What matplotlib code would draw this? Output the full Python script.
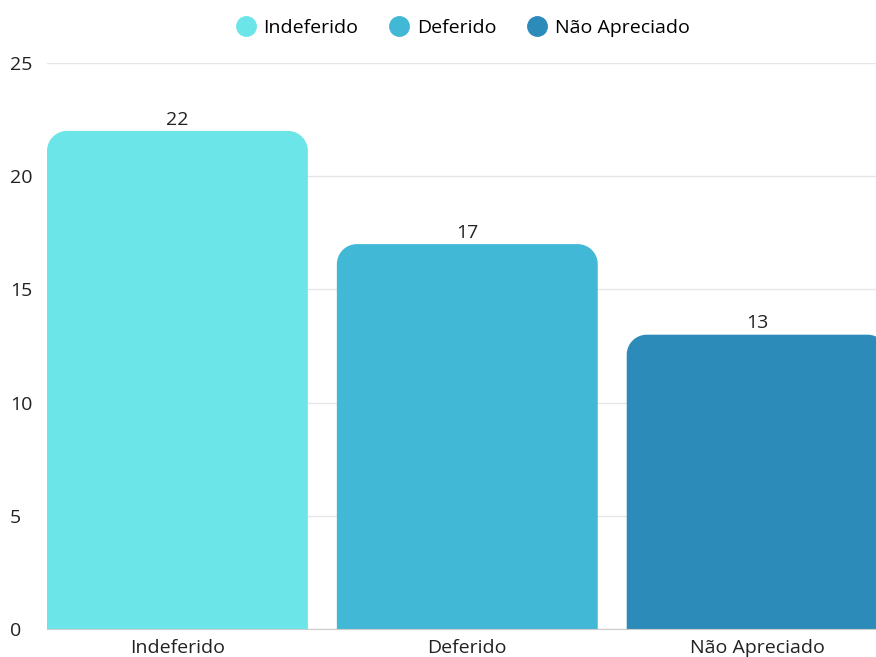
import matplotlib.pyplot as plt
from matplotlib.path import Path
from matplotlib.patches import PathPatch
from matplotlib.lines import Line2D

categories = ["Indeferido", "Deferido", "Não Apreciado"]
values = [22, 17, 13]
colors = ["#6CE5E8", "#41B8D5", "#2D8BBA"]

plt.rcParams['font.family'] = ['Open Sans', 'DejaVu Sans']

fig = plt.figure(figsize=(8.76, 6.57), dpi=100)
ax = fig.add_axes([47 / 876, 28 / 657, 1 - 47 / 876, (629 - 63) / 657])

x = list(range(len(categories)))
bars = ax.bar(x, values, width=0.9, color=colors, zorder=2)

ax.set_xlim(-0.45, 2.41)
ax.set_ylim(0, 25)


def rounded_top(x0, w, h, rx, ry):
    k = 0.5523
    verts = [
        (x0, 0), (x0, h - ry),
        (x0, h - ry + k * ry), (x0 + rx - k * rx, h), (x0 + rx, h),
        (x0 + w - rx, h),
        (x0 + w - rx + k * rx, h), (x0 + w, h - ry + k * ry), (x0 + w, h - ry),
        (x0 + w, 0), (x0, 0),
    ]
    codes = [Path.MOVETO, Path.LINETO,
             Path.CURVE4, Path.CURVE4, Path.CURVE4,
             Path.LINETO,
             Path.CURVE4, Path.CURVE4, Path.CURVE4,
             Path.LINETO, Path.CLOSEPOLY]
    return Path(verts, codes)


# swap plain bars for ones with rounded top corners (~20 px radius)
px_x = ax.transData.transform((1, 0))[0] - ax.transData.transform((0, 0))[0]
px_y = ax.transData.transform((0, 1))[1] - ax.transData.transform((0, 0))[1]
rx, ry = 20 / px_x, 20 / px_y
for b, c in zip(bars, colors):
    b.set_visible(False)
    p = PathPatch(rounded_top(b.get_x(), b.get_width(), b.get_height(), rx, ry),
                  facecolor=c, edgecolor="none", zorder=2)
    ax.add_patch(p)
    ax.text(b.get_x() + b.get_width() / 2, b.get_height() + 0.1, str(int(b.get_height())),
            ha="center", va="bottom", fontsize=14, color="#222222")

ax.set_yticks([0, 5, 10, 15, 20, 25])
ax.set_xticks(x)
ax.set_xticklabels(categories)
ax.grid(axis="y", color="#e6e6e6", linewidth=1, zorder=0)
for s in ["top", "right", "left"]:
    ax.spines[s].set_visible(False)
ax.spines["bottom"].set_color("#cccccc")
ax.spines["bottom"].set_zorder(3)
ax.tick_params(axis="both", length=0, labelsize=14, colors="#222222")
ax.tick_params(axis="y", pad=26.6)
ax.tick_params(axis="x", pad=7)
for lbl in ax.get_yticklabels():
    lbl.set_horizontalalignment("left")

handles = [Line2D([], [], marker="o", linestyle="none", markersize=14,
                  markerfacecolor=c, markeredgecolor=c) for c in colors]
fig.legend(handles, categories, loc="center", bbox_to_anchor=(463 / 876, 1 - 28 / 657),
           ncol=3, frameon=False, fontsize=14, handletextpad=0.4, columnspacing=1.6,
           handlelength=1.0)

fig.savefig("out.png", dpi=100)
